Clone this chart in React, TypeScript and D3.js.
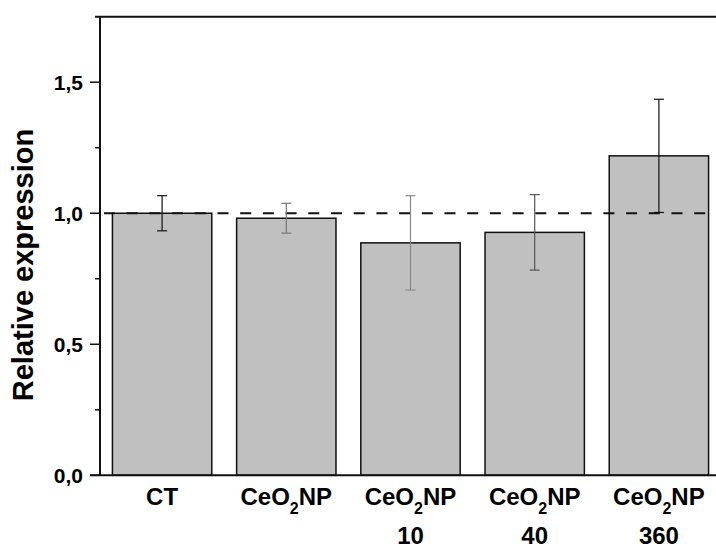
import React from "react";
import * as d3 from "d3";

const width = 716;
const height = 552;

const categories = ["CT", "CeO2NP", "CeO2NP 10", "CeO2NP 40", "CeO2NP 360"];
const labelMain = ["CT", "CeO2NP", "CeO2NP", "CeO2NP", "CeO2NP"];
const labelSecond = ["", "", "10", "40", "360"];
const values = [1.0, 0.981, 0.887, 0.927, 1.219];
const errors = [0.067, 0.057, 0.18, 0.144, 0.216];
const majorTicks = [0, 0.5, 1.0, 1.5];
const minorTicks = [0.25, 0.75, 1.25];
const errColors = ["#111", "#777", "#888", "#555", "#111"];

const axisX = 100;
const axisTop = 16.7;
const axisBottom = 475.3;
const font = "Arial, 'Liberation Sans', sans-serif";

const fmt = (v: number) => d3.format(".1f")(v).replace(".", ",");

// subscripted label, e.g. CeO2NP
const Label = ({ text, x, y }: { text: string; x: number; y: number }) => {
  if (text !== "CeO2NP") {
    return (
      <text x={x} y={y} textAnchor="middle" fontSize={24} fontWeight="bold" fontFamily={font}>
        {text}
      </text>
    );
  }
  return (
    <text x={x} y={y} textAnchor="middle" fontSize={24} fontWeight="bold" fontFamily={font}>
      CeO
      <tspan fontSize={16} dy={9}>2</tspan>
      <tspan dy={-9}>NP</tspan>
    </text>
  );
};

export default function App() {
  const y = d3.scaleLinear().domain([0, 1.75]).range([axisBottom, axisTop]);
  const x = d3
    .scaleBand()
    .domain(categories)
    .range([axisX, axisX + 5 * 124.2])
    .paddingInner(0.2)
    .paddingOuter(0.1);
  const bw = x.bandwidth();

  return (
    <svg
      width={width}
      height={height}
      style={{ position: "absolute", left: 0, top: 0, background: "#fff" }}
    >
      {/* bars */}
      {categories.map((c, i) => (
        <rect
          key={c}
          x={x(c)}
          y={y(values[i])}
          width={bw}
          height={axisBottom - y(values[i])}
          fill="#c0c0c0"
          stroke="#111"
          strokeWidth={1.5}
        />
      ))}

      {/* reference line at 1 */}
      <line
        x1={axisX}
        x2={width}
        y1={y(1)}
        y2={y(1)}
        stroke="#111"
        strokeWidth={2}
        strokeDasharray="11,11.7"
        strokeDashoffset={-4}
      />

      {/* error bars */}
      {categories.map((c, i) => {
        const cx = (x(c) as number) + bw / 2;
        const hi = y(values[i] + errors[i]);
        const lo = y(values[i] - errors[i]);
        return (
          <g key={c} stroke={errColors[i]} strokeWidth={1.2}>
            <line x1={cx} x2={cx} y1={hi} y2={lo} />
            <line x1={cx - 5} x2={cx + 5} y1={hi} y2={hi} />
            <line x1={cx - 5} x2={cx + 5} y1={lo} y2={lo} />
          </g>
        );
      })}

      {/* frame */}
      <line x1={95} x2={width} y1={axisTop} y2={axisTop} stroke="#111" strokeWidth={2} />
      <line x1={axisX} x2={axisX} y1={axisTop} y2={axisBottom} stroke="#111" strokeWidth={2} />
      <line x1={90} x2={width} y1={axisBottom} y2={axisBottom} stroke="#111" strokeWidth={2} />

      {/* y ticks */}
      {majorTicks.map((t) => (
        <g key={t}>
          <line x1={90} x2={axisX} y1={y(t)} y2={y(t)} stroke="#111" strokeWidth={1.5} />
          <text
            x={83}
            y={y(t)}
            dy="0.36em"
            textAnchor="end"
            fontSize={21}
            fontWeight="bold"
            fontFamily={font}
          >
            {fmt(t)}
          </text>
        </g>
      ))}
      {minorTicks.map((t) => (
        <line key={t} x1={95} x2={axisX} y1={y(t)} y2={y(t)} stroke="#111" strokeWidth={1.5} />
      ))}

      {/* x labels */}
      {categories.map((c, i) => {
        const cx = (x(c) as number) + bw / 2;
        return (
          <g key={c}>
            <Label text={labelMain[i]} x={cx} y={505} />
            {labelSecond[i] && (
              <text x={cx} y={544} textAnchor="middle" fontSize={24} fontWeight="bold" fontFamily={font}>
                {labelSecond[i]}
              </text>
            )}
          </g>
        );
      })}

      {/* y title */}
      <text
        transform={`translate(33,265) rotate(-90)`}
        textAnchor="middle"
        fontSize={29}
        fontWeight="bold"
        fontFamily={font}
      >
        Relative expression
      </text>
    </svg>
  );
}
